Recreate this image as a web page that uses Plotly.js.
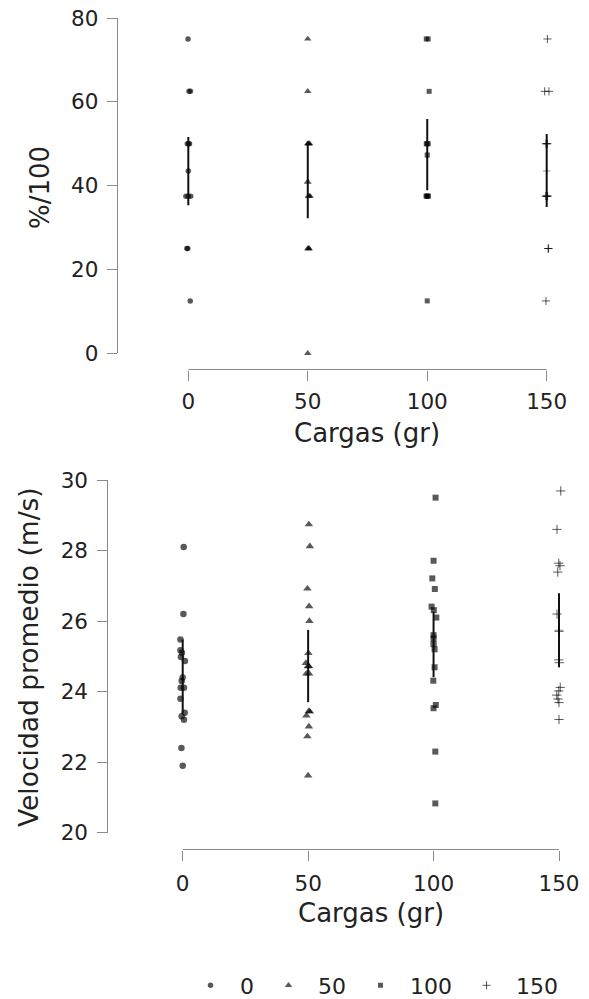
<!DOCTYPE html>
<html><head><meta charset="utf-8">
<script src="https://cdn.plot.ly/plotly-3.0.1.min.js"></script>
<style>html,body{margin:0;padding:0;background:#fff}#chart{width:589px;height:999px}</style>
</head><body><div id="chart"></div>
<script>
// ---- categories ----
const cargas = [0, 50, 100, 150];
const cargaLabels = ['0', '50', '100', '150'];
const symbols = ['circle', 'triangle-up', 'square', 'cross-thin'];

// ---- top panel: %/100 ----
const pctTicks = [0, 20, 40, 60, 80];
const pct0 = [75, 62.5, 62.5, 50, 50, 50, 37.5, 37.5, 37.5, 25, 25, 12.5];
const pctJit0 = [-0.1, 0.3, 0.9, -0.4, 0.1, 0.5, -1.0, 0, 1.0, -0.6, -0.2, 0.8];
const pct50 = [75, 62.5, 50, 50, 50, 50, 37.5, 37.5, 37.5, 25, 25, 25, 0];
const pctJit50 = [0, 0, 0, 0.4, 0.8, 0.2, 0.2, 0.6, 1.0, 0, 0.4, 0.6, 0];
const pct100 = [75, 75, 62.5, 50, 50, 50, 37.5, 37.5, 37.5, 37.5, 12.5];
const pctJit100 = [-0.4, 0.4, 0.8, -0.4, 0, 0.4, -0.5, -0.2, 0.2, 0.5, 0];
const pct150 = [75, 62.5, 62.5, 50, 50, 50, 37.5, 37.5, 37.5, 37.5, 25, 25, 12.5];
const pctJit150 = [0.3, -0.85, 0.95, -0.3, 0, 0.3, -0.4, -0.1, 0.2, 0.4, 0.6, 0.8, -0.3];
const pctMean = [43.5, 40.9, 47.3, 43.5];
const pctLow = [35.3, 32.2, 38.9, 34.9];
const pctHigh = [51.6, 50.5, 55.9, 52.3];

// ---- bottom panel: Velocidad promedio (m/s) ----
const velTicks = [20, 22, 24, 26, 28, 30];
const vel0 = [28.1, 26.2, 25.48, 25.17, 25.1, 24.98, 24.87, 24.3, 24.11, 24.11, 23.8, 23.4, 23.3, 23.2, 22.4, 21.9];
const velJit0 = [0.4, 0.3, -0.9, -0.9, -0.3, -0.7, 0.9, -0.4, -0.8, 0.5, -0.9, 0.8, -0.4, 0.5, -0.5, 0];
const vel50 = [28.74, 28.12, 26.92, 26.42, 26.0, 25.09, 24.81, 24.72, 24.51, 24.51, 23.45, 23.43, 23.32, 23.01, 22.73, 21.62];
const velJit50 = [0.3, 0.7, -0.3, 0.4, 0.5, 0.1, -0.9, 0.3, -0.7, 0.4, 0.3, 0.7, -0.7, 0.3, -0.3, 0];
const vel100 = [29.5, 27.71, 27.21, 26.91, 26.41, 26.31, 26.1, 25.6, 25.51, 25.2, 24.69, 24.31, 23.62, 23.53, 22.3, 20.83];
const velJit100 = [0.8, 0, -0.5, 0.5, -0.8, 0.1, 1.1, 0, 0, 0.4, 0.4, -0.1, 0.9, 0, 0.7, 0.7];
const vel150 = [29.69, 28.6, 27.64, 27.57, 27.39, 26.2, 25.71, 24.9, 24.82, 24.12, 24.02, 23.9, 23.79, 23.69, 23.21];
const velJit150 = [0.7, -0.8, -0.1, 0.4, -0.5, -0.8, 0, -0.1, 0.1, 0.5, -0.1, -0.9, -0.4, 0, 0];
const velMean = [24.4, 24.72, 25.35, 25.74];
const velLow = [23.38, 23.7, 24.41, 24.69];
const velHigh = [25.48, 25.75, 26.27, 26.79];

const pctGroups = [[pct0, pctJit0], [pct50, pctJit50], [pct100, pctJit100], [pct150, pctJit150]];
const velGroups = [[vel0, velJit0], [vel50, velJit50], [vel100, velJit100], [vel150, velJit150]];

const ptColor = 'rgba(0,0,0,0.65)';
const sizesTop = [5.5, 6.5, 5, 5.8];
const sizesBot = [6.5, 7.5, 6, 6.6];

function mk(i, sizes, color) {
  const isCross = symbols[i] === 'cross-thin';
  return {
    symbol: symbols[i], size: sizes[i], color: color,
    line: isCross ? {width: 1, color: color} : {width: 0}
  };
}

const traces = [];
cargas.forEach((c, i) => {
  const [vals, jit] = pctGroups[i];
  traces.push({
    type: 'scatter', mode: 'markers', xaxis: 'x', yaxis: 'y',
    x: jit.map(j => c + j), y: vals, name: cargaLabels[i], legendgroup: 'g' + i,
    marker: mk(i, sizesTop, ptColor), cliponaxis: false, showlegend: true
  });
});
cargas.forEach((c, i) => {
  const [vals, jit] = velGroups[i];
  traces.push({
    type: 'scatter', mode: 'markers', xaxis: 'x2', yaxis: 'y2',
    x: jit.map(j => c + j), y: vals, name: cargaLabels[i], legendgroup: 'g' + i,
    marker: mk(i, sizesBot, ptColor), cliponaxis: false, showlegend: false
  });
});
function meanTrace(mean, low, high, xa, ya, sizes) {
  return {
    type: 'scatter', mode: 'markers', xaxis: xa, yaxis: ya,
    x: cargas, y: mean, showlegend: false, cliponaxis: false,
    marker: {symbol: symbols, size: sizes, color: 'rgba(0,0,0,0.85)', line: {width: 1, color: 'rgba(0,0,0,0.6)'}},
    error_y: {type: 'data', symmetric: false,
      array: high.map((h, k) => h - mean[k]), arrayminus: mean.map((m, k) => m - low[k]),
      width: 0, thickness: 2, color: '#111'}
  };
}
traces.push(meanTrace(pctMean, pctLow, pctHigh, 'x', 'y', sizesTop.map(s => s - 0.5)));
traces.push(meanTrace(velMean, velLow, velHigh, 'x2', 'y2', sizesBot.map(s => s - 0.5)));

const W = 589, H = 999;
const px = v => v / W, py = v => 1 - v / H;
// x range padded so jittered points stay inside; the axis line is drawn only from 0 to 150
const XPAD = 2;
function xDomain(p0, p150) {
  const u = (p150 - p0) / 150;
  return [px(p0 - XPAD * u), px(p150 + XPAD * u)];
}

const axCommon = {
  linecolor: '#8a8a8a', linewidth: 1,
  ticks: 'outside', ticklen: 10, tickcolor: '#8a8a8a', tickwidth: 1,
  showgrid: false, zeroline: false, tickfont: {size: 21.5, color: '#222'},
  fixedrange: true, anchor: 'free'
};
const topXPos = 369.5, botXPos = 849.5;

const layout = {
  width: W, height: H, margin: {l: 0, r: 0, t: 0, b: 0, autoexpand: false},
  paper_bgcolor: '#fff', plot_bgcolor: 'rgba(0,0,0,0)',
  font: {family: 'DejaVu Sans', color: '#222'},
  showlegend: true,
  xaxis: Object.assign({}, axCommon, {
    domain: xDomain(188.3, 546.7), range: [-XPAD, 150 + XPAD], position: py(topXPos),
    showline: false, ticklabelstandoff: 3,
    tickmode: 'array', tickvals: cargas, ticktext: cargaLabels
  }),
  yaxis: Object.assign({}, axCommon, {
    domain: [py(353.3), py(18)], range: [0, 80], position: px(116.7),
    showline: true, ticklabelstandoff: 4,
    tickmode: 'array', tickvals: pctTicks
  }),
  xaxis2: Object.assign({}, axCommon, {
    domain: xDomain(182.7, 559), range: [-XPAD, 150 + XPAD], position: py(botXPos),
    showline: false, ticklabelstandoff: 5,
    tickmode: 'array', tickvals: cargas, ticktext: cargaLabels
  }),
  yaxis2: Object.assign({}, axCommon, {
    domain: [py(832.7), py(480)], range: [20, 30], position: px(107.3),
    showline: true, ticklabelstandoff: 5,
    tickmode: 'array', tickvals: velTicks
  }),
  shapes: [
    {type: 'line', xref: 'x', yref: 'paper', x0: cargas[0], x1: cargas[cargas.length - 1],
     y0: py(topXPos), y1: py(topXPos), line: {color: '#8a8a8a', width: 1}},
    {type: 'line', xref: 'x2', yref: 'paper', x0: cargas[0], x1: cargas[cargas.length - 1],
     y0: py(botXPos), y1: py(botXPos), line: {color: '#8a8a8a', width: 1}}
  ],
  annotations: [
    {text: '%/100', xref: 'paper', yref: 'paper', x: px(40), y: py(188), textangle: -90,
     showarrow: false, xanchor: 'center', yanchor: 'middle', font: {size: 26, color: '#222'}},
    {text: 'Cargas (gr)', xref: 'paper', yref: 'paper', x: px(367.5), y: py(433),
     showarrow: false, xanchor: 'center', yanchor: 'middle', font: {size: 26, color: '#222'}},
    {text: 'Velocidad promedio (m/s)', xref: 'paper', yref: 'paper', x: px(28), y: py(657), textangle: -90,
     showarrow: false, xanchor: 'center', yanchor: 'middle', font: {size: 26.5, color: '#222'}},
    {text: 'Cargas (gr)', xref: 'paper', yref: 'paper', x: px(370.8), y: py(913),
     showarrow: false, xanchor: 'center', yanchor: 'middle', font: {size: 26, color: '#222'}}
  ],
  legend: {orientation: 'h', x: px(181), y: py(985.5), xanchor: 'left', yanchor: 'middle',
    font: {size: 22, color: '#222'}, itemwidth: 49, bgcolor: 'rgba(0,0,0,0)', borderwidth: 0,
    itemclick: false, itemdoubleclick: false}
};

Plotly.newPlot('chart', traces, layout, {displayModeBar: false, staticPlot: true});
</script></body></html>
